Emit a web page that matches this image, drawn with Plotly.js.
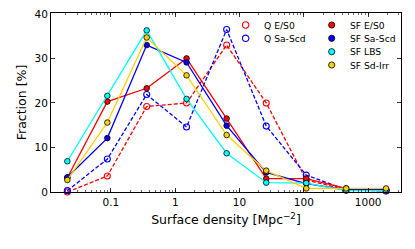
<!DOCTYPE html>
<html>
<head>
<meta charset="utf-8">
<script src="https://cdn.plot.ly/plotly-3.0.1.min.js"></script>
<style>html,body{margin:0;padding:0;background:#fff;}#chart{width:415px;height:249px;}</style>
</head>
<body>
<div id="chart"></div>
<script>
// Surface density bin centres [Mpc^-2]
const density = [0.021, 0.088, 0.36, 1.5, 6.3, 26, 109, 455, 1900];
// Fraction [%]
const qES0     = [0.0, 3.6, 19.2, 20.0, 33.0, 20.0, 2.7, 0.5, 0.2];
const qSaScd   = [0.3, 7.4, 21.9, 14.6, 36.5, 14.8, 3.8, 0.5, 0.3];
const sfES0    = [3.2, 20.3, 23.3, 30.0, 16.5, 3.0, 3.0, 0.8, 0.5];
const sfSaScd  = [3.3, 12.1, 33.0, 29.1, 14.9, 4.4, 1.9, 0.5, 0.5];
const sfLBS    = [6.9, 21.6, 36.3, 20.9, 8.7, 2.1, 2.0, 0.3, 0.3];
const sfSdIrr  = [2.7, 15.6, 34.7, 26.2, 12.8, 4.8, 0.8, 0.8, 0.8];
const tickVals = [0.1, 1, 10, 100, 1000];
const tickText = ['0.1', '1', '10', '100', '1000'];

const series = [
  {name: 'Q E/S0',    y: qES0,    color: '#ff0000', open: true,  col: 0, row: 0},
  {name: 'Q Sa-Scd',  y: qSaScd,  color: '#0000ff', open: true,  col: 0, row: 1},
  {name: 'SF E/S0',   y: sfES0,   color: '#ff0000', open: false, col: 1, row: 0},
  {name: 'SF Sa-Scd', y: sfSaScd, color: '#0000ff', open: false, col: 1, row: 1},
  {name: 'SF LBS',    y: sfLBS,   color: '#00ffff', open: false, col: 1, row: 2},
  {name: 'SF Sd-Irr', y: sfSdIrr, color: '#ffd000', open: false, col: 1, row: 3}
];

function markerFor(s) {
  return s.open
    ? {symbol: 'circle-open', size: 6, color: s.color, line: {color: s.color, width: 1.1}}
    : {symbol: 'circle', size: 5.6, color: s.color, line: {color: '#000', width: 0.8}};
}

const traces = series.map(s => ({
  x: density, y: s.y, type: 'scatter', mode: 'lines+markers', name: s.name,
  line: {color: s.color, width: 1.3, dash: s.open ? '4px,2px' : 'solid'},
  marker: markerFor(s), showlegend: false, hoverinfo: 'skip', cliponaxis: false
}));

// plot area in pixels (for placing the legend in paper units)
const W = 415, H = 249, mL = 51, mR = 14, mT = 13, mB = 57;
const pw = W - mL - mR, ph = H - mT - mB;
const px = v => (v - mL) / pw;
const py = v => (H - mB - v) / ph;
const legColX = [245.7, 331.7];
const legRowY = [25, 38.3, 51.7, 65];

const shapes = [], annotations = [];
series.forEach(s => {
  const cx = px(legColX[s.col]), cy = py(legRowY[s.row]);
  const r = s.open ? 3.2 : 3.1;
  shapes.push({
    type: 'circle', xref: 'paper', yref: 'paper',
    xsizemode: 'pixel', ysizemode: 'pixel', xanchor: cx, yanchor: cy,
    x0: -r, x1: r, y0: -r, y1: r,
    fillcolor: s.open ? 'rgba(0,0,0,0)' : s.color,
    line: {color: s.open ? s.color : '#000', width: s.open ? 1.1 : 0.8}
  });
  annotations.push({
    xref: 'paper', yref: 'paper', x: px(legColX[s.col] + 16.5), y: cy,
    xanchor: 'left', yanchor: 'middle', showarrow: false, text: s.name,
    font: {family: 'DejaVu Sans, sans-serif', size: 9.2, color: '#000'}
  });
});

const layout = {
  width: W, height: H,
  margin: {l: mL, r: mR, t: mT, b: mB},
  paper_bgcolor: '#fff', plot_bgcolor: '#fff',
  font: {family: 'DejaVu Sans, sans-serif', size: 10.5, color: '#000'},
  showlegend: false,
  shapes: shapes, annotations: annotations,
  xaxis: {
    type: 'log', range: [Math.log10(0.0117), Math.log10(3240)],
    tickvals: tickVals, ticktext: tickText,
    ticks: 'inside', ticklen: 4, tickwidth: 0.8, tickcolor: '#000',
    minor: {ticks: 'inside', ticklen: 2, tickwidth: 0.6, tickcolor: '#000', dtick: 'D1', showgrid: false},
    showline: true, linecolor: '#000', linewidth: 1, mirror: 'ticks',
    showgrid: false, zeroline: false,
    tickfont: {family: 'DejaVu Sans, sans-serif', size: 10.5},
    title: {text: 'Surface density [Mpc<sup>−2</sup>]', font: {family: 'DejaVu Sans, sans-serif', size: 12.5}, standoff: 8}
  },
  yaxis: {
    range: [0, 40.2], tickvals: [0, 10, 20, 30, 40],
    ticks: 'inside', ticklen: 4, tickwidth: 0.8, tickcolor: '#000',
    showline: true, linecolor: '#000', linewidth: 1, mirror: 'ticks',
    showgrid: false, zeroline: false,
    tickfont: {family: 'DejaVu Sans, sans-serif', size: 10.5},
    title: {text: 'Fraction [%]', font: {family: 'DejaVu Sans, sans-serif', size: 12.5}, standoff: 5}
  }
};

Plotly.newPlot('chart', traces, layout, {staticPlot: true, displayModeBar: false});
</script>
</body>
</html>
